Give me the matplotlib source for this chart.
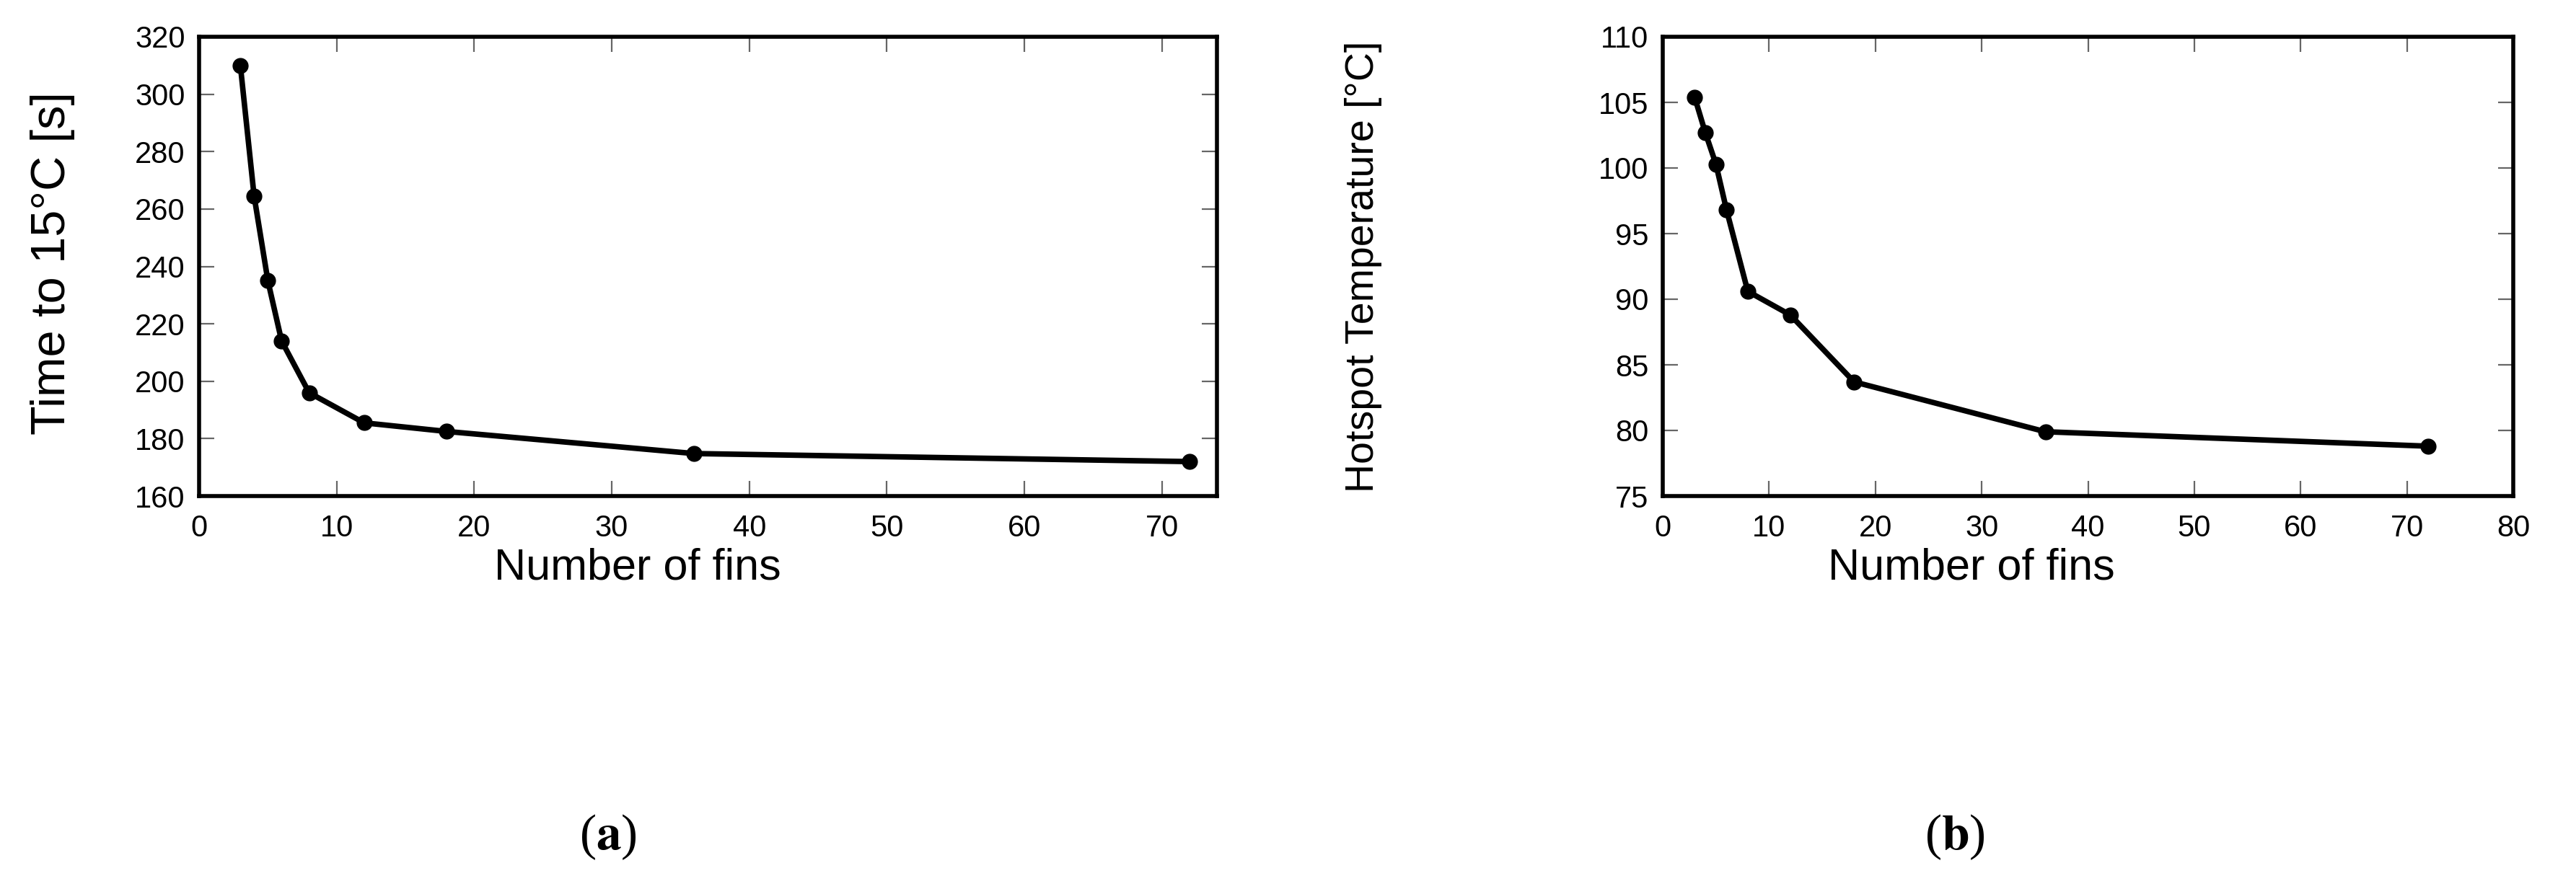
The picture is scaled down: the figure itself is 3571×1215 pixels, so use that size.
import matplotlib.pyplot as plt
import matplotlib as mpl

mpl.rcParams.update({
    'font.family': ['Liberation Sans', 'DejaVu Sans'],
    'mathtext.fontset': 'stix',
})

# datos
n_fins = [3, 4, 5, 6, 8, 12, 18, 36, 72]
t_15C = [310, 264.5, 235, 214, 196, 185.5, 182.5, 174.8, 172]
t_hotspot = [105.4, 102.7, 100.3, 96.8, 90.6, 88.8, 83.7, 79.9, 78.8]

ticks_x_a = [0, 10, 20, 30, 40, 50, 60, 70]
ticks_y_a = [160, 180, 200, 220, 240, 260, 280, 300, 320]
ticks_x_b = [0, 10, 20, 30, 40, 50, 60, 70, 80]
ticks_y_b = [75, 80, 85, 90, 95, 100, 105, 110]

W, H = 3571, 1215
fig = plt.figure(figsize=(W / 100, H / 100), dpi=100)

# posiciones de los ejes en pixeles (x0, y0_arriba, x1, y1_abajo)
caja_a = (276, 51, 1687, 688)
caja_b = (2305, 51, 3484, 688)


def crear_eje(caja):
    x0, y0, x1, y1 = caja
    return fig.add_axes([x0 / W, 1 - y1 / H, (x1 - x0) / W, (y1 - y0) / H])


def dibujar(ax, x, y, xt, yt, xlim):
    ax.plot(x, y, '-o', color='black', lw=5.5, markersize=15, zorder=3)
    ax.set_xlim(*xlim)
    ax.set_ylim(yt[0], yt[-1])
    ax.set_xticks(xt)
    ax.set_yticks(yt)
    ax.tick_params(direction='in', length=15, width=1.6, color='#666666',
                   labelsize=30, top=True, right=True)
    ax.tick_params(axis='x', pad=18)
    ax.tick_params(axis='y', pad=14)
    for s in ax.spines.values():
        s.set_linewidth(4)
        s.set_color('black')


ax1 = crear_eje(caja_a)
dibujar(ax1, n_fins, t_15C, ticks_x_a, ticks_y_a, (0, 74))

ax2 = crear_eje(caja_b)
dibujar(ax2, n_fins, t_hotspot, ticks_x_b, ticks_y_b, (0, 80))

# etiquetas de los ejes
fig.text(73 / W, 1 - 365 / H, 'Time to 15°C [s]', rotation=90,
         ha='center', va='center', fontsize=48)
fig.text(1890 / W, 1 - 370 / H, 'Hotspot Temperature [°C]', rotation=90,
         ha='center', va='center', fontsize=40)
fig.text(884 / W, 1 - 788 / H, 'Number of fins', ha='center', va='center',
         fontsize=44)
fig.text(2733 / W, 1 - 788 / H, 'Number of fins', ha='center', va='center',
         fontsize=44)

# (a) y (b)
fig.text(843 / W, 1 - 1161 / H, r'($\mathbf{a}$)', ha='center', va='center',
         fontsize=50, family='Liberation Serif')
fig.text(2710 / W, 1 - 1161 / H, r'($\mathbf{b}$)', ha='center', va='center',
         fontsize=50, family='Liberation Serif')

fig.savefig('out.png', dpi=100, facecolor='white')
